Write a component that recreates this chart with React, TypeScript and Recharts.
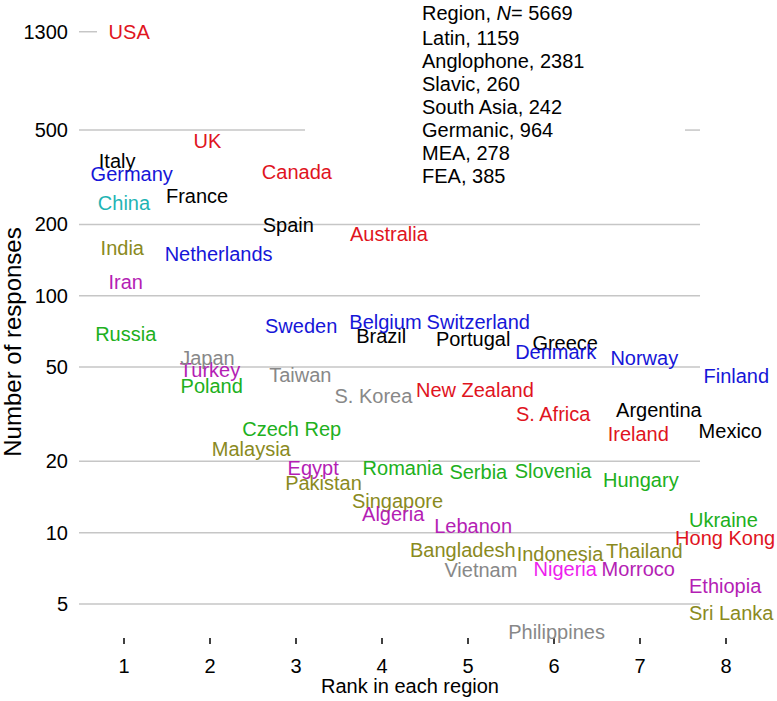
import { ScatterChart, Scatter, XAxis, YAxis, ReferenceLine } from 'recharts'

// ranks are jittered so labels sit where they do in the figure
const latinNames = ['Italy', 'France', 'Spain', 'Brazil', 'Portugal', 'Greece', 'Argentina', 'Mexico']
const latinRank = [0.92, 1.85, 2.91, 3.99, 5.06, 6.13, 7.22, 8.05]
const latinCount = [370, 263, 199, 68, 66, 63, 33, 27]

const angloNames = ['USA', 'UK', 'Canada', 'Australia', 'New Zealand', 'S. Africa', 'Ireland', 'Hong Kong']
const angloRank = [1.06, 1.97, 3.01, 4.08, 5.08, 5.99, 6.98, 7.99]
const angloCount = [1296, 452, 334, 182, 40, 31.7, 26.1, 9.5]

const germanicNames = ['Germany', 'Netherlands', 'Sweden', 'Belgium', 'Switzerland', 'Denmark', 'Norway', 'Finland']
const germanicRank = [1.09, 2.1, 3.06, 4.04, 5.12, 6.02, 7.05, 8.12]
const germanicCount = [328, 150, 75, 77.4, 77.4, 57.9, 54.6, 46]

const slavicNames = ['Russia', 'Poland', 'Czech Rep', 'Romania', 'Serbia', 'Slovenia', 'Hungary', 'Ukraine']
const slavicRank = [1.02, 2.02, 2.95, 4.24, 5.12, 5.99, 7.01, 7.97]
const slavicCount = [68.9, 41.6, 27.5, 18.8, 18.0, 18.2, 16.8, 11.3]

const southAsiaNames = ['India', 'Malaysia', 'Pakistan', 'Singapore', 'Bangladesh', 'Indonesia', 'Thailand', 'Sri Lanka']
const southAsiaRank = [0.98, 2.48, 3.32, 4.18, 4.94, 6.07, 7.05, 8.06]
const southAsiaCount = [160, 22.6, 16.2, 13.7, 8.45, 8.17, 8.37, 4.58]

const meaNames = ['Iran', 'Turkey', 'Egypt', 'Algeria', 'Lebanon', 'Nigeria', 'Morroco', 'Ethiopia']
const meaRank = [1.02, 2.0, 3.2, 4.13, 5.06, 6.13, 6.98, 7.99]
const meaCount = [114.8, 48.6, 18.8, 12.0, 10.7, 7.06, 7.06, 5.96]

const feaNames = ['China', 'Japan', 'Taiwan', 'S. Korea', 'Vietnam', 'Philippines']
const feaRank = [1.0, 1.97, 3.05, 3.9, 5.15, 6.03]
const feaCount = [247, 54.8, 46.5, 37.8, 6.96, 3.81]

const legendLines = ['Latin, 1159', 'Anglophone, 2381', 'Slavic, 260', 'South Asia, 242', 'Germanic, 964', 'MEA, 278', 'FEA, 385']
const totalN = 5669

const xTicks = [1, 2, 3, 4, 5, 6, 7, 8]
const yTicks = [5, 10, 20, 50, 100, 200, 500, 1300]

const FONT = '"Liberation Sans", Arial, Helvetica, sans-serif'
const GRID = '#c6c6c6'

// visible pieces of the horizontal grid: [value, fromRank, toRank]
const gridPieces: [number, number, number][] = [
  [1300, 0.477, 0.686],
  [500, 0.477, 3.105],
  [500, 7.523, 7.698],
  [200, 0.477, 7.698],
  [100, 0.477, 7.698],
  [50, 0.477, 7.698],
  [20, 0.477, 7.698],
  [10, 0.477, 7.698],
  [5, 0.477, 7.698],
]

const colorOverride: Record<string, string> = {
  China: '#1fb4b4',
  Nigeria: '#ee1eee',
}

type Pt = { name: string; rank: number; count: number }

function toPoints(names: string[], ranks: number[], counts: number[]): Pt[] {
  return names.map((name, i) => ({ name, rank: ranks[i], count: counts[i] }))
}

const groups = [
  { key: 'latin', color: '#000000', data: toPoints(latinNames, latinRank, latinCount) },
  { key: 'anglo', color: '#e0141e', data: toPoints(angloNames, angloRank, angloCount) },
  { key: 'germanic', color: '#1616d8', data: toPoints(germanicNames, germanicRank, germanicCount) },
  { key: 'slavic', color: '#20b020', data: toPoints(slavicNames, slavicRank, slavicCount) },
  { key: 'southAsia', color: '#8a8a1e', data: toPoints(southAsiaNames, southAsiaRank, southAsiaCount) },
  { key: 'mea', color: '#b41eb4', data: toPoints(meaNames, meaRank, meaCount) },
  { key: 'fea', color: '#888888', data: toPoints(feaNames, feaRank, feaCount) },
]

function NameMark(props: any) {
  const { cx, cy, payload, fill } = props
  if (cx == null || cy == null) return null
  return (
    <text
      x={cx}
      y={cy}
      dy="0.36em"
      textAnchor="middle"
      fill={colorOverride[payload.name] ?? fill}
      fontSize={20}
      fontFamily={FONT}
    >
      {payload.name}
    </text>
  )
}

export default function App() {
  return (
    <div style={{ position: 'absolute', left: 0, top: 0, width: 777, height: 701, background: '#fff' }}>
      <ScatterChart width={777} height={701} margin={{ top: 17, right: 8, bottom: 0, left: 0 }}>
        <XAxis
          type="number"
          dataKey="rank"
          domain={[0.5, 8.5]}
          ticks={xTicks}
          axisLine={false}
          tickLine={{ stroke: '#000', strokeWidth: 1.5 }}
          tickSize={6}
          tickMargin={15}
          height={63}
          tick={{ fill: '#000', fontSize: 20, fontFamily: FONT }}
        />
        <YAxis
          type="number"
          dataKey="count"
          scale="log"
          domain={[3.595, 1500]}
          ticks={yTicks}
          axisLine={false}
          tickLine={false}
          tickSize={0}
          tickMargin={13}
          width={81}
          tick={{ fill: '#000', fontSize: 20, fontFamily: FONT }}
        />
        {gridPieces.map(([v, a, b], i) => (
          <ReferenceLine
            key={i}
            segment={[{ x: a, y: v }, { x: b, y: v }]}
            stroke={GRID}
            strokeWidth={1.5}
            ifOverflow="visible"
          />
        ))}
        {groups.map((g) => (
          <Scatter
            key={g.key}
            data={g.data}
            fill={g.color}
            shape={NameMark}
            isAnimationActive={false}
          />
        ))}
      </ScatterChart>
      <svg
        width={777}
        height={701}
        style={{ position: 'absolute', left: 0, top: 0, pointerEvents: 'none' }}
        fontFamily={FONT}
      >
        <text x={422} y={20} fontSize={20} fill="#000">
          Region, <tspan fontStyle="italic">N</tspan>= {totalN}
        </text>
        {legendLines.map((t, i) => (
          <text key={t} x={422} y={45 + i * 23.05} fontSize={20} fill="#000">
            {t}
          </text>
        ))}
        <text x={410} y={693} fontSize={20} fill="#000" textAnchor="middle">
          Rank in each region
        </text>
        <text transform="translate(21,342) rotate(-90)" fontSize={24} fill="#000" textAnchor="middle">
          Number of responses
        </text>
      </svg>
    </div>
  )
}
